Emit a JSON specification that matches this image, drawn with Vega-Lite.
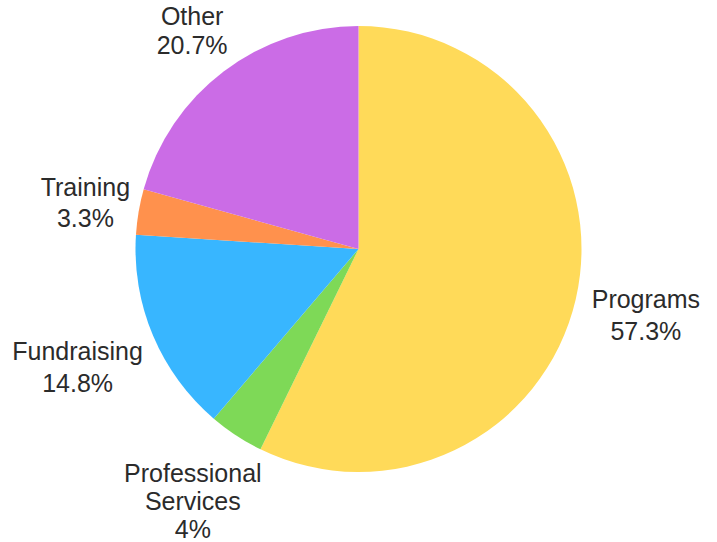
{
  "$schema": "https://vega.github.io/schema/vega-lite/v6.json",
  "width": 717,
  "height": 498,
  "autosize": {"type": "none"},
  "padding": {"top": 0, "left": 0, "right": 0, "bottom": 44},
  "background": "#ffffff",
  "config": {"view": {"stroke": null}},
  "data": {
    "values": [
      {"category": "Programs", "value": 57.3, "rank": 1, "label": "Programs\n57.3%"},
      {"category": "Professional Services", "value": 4, "rank": 2, "label": "Professional\nServices\n4%"},
      {"category": "Fundraising", "value": 14.8, "rank": 3, "label": "Fundraising\n14.8%"},
      {"category": "Training", "value": 3.3, "rank": 4, "label": "Training\n3.3%"},
      {"category": "Other", "value": 20.7, "rank": 5, "label": "Other\n20.7%"}
    ]
  },
  "encoding": {
    "theta": {"field": "value", "type": "quantitative", "stack": true},
    "order": {"field": "rank", "type": "quantitative"}
  },
  "layer": [
    {
      "mark": {"type": "arc", "outerRadius": 223},
      "encoding": {
        "color": {
          "field": "category",
          "type": "nominal",
          "scale": {
            "domain": ["Programs", "Professional Services", "Fundraising", "Training", "Other"],
            "range": ["#FFDA59", "#7ED957", "#38B6FF", "#FF914D", "#CB6CE6"]
          },
          "legend": null
        }
      }
    },
    {
      "mark": {
        "type": "text", "radius": 275, "dy": -13,
        "lineBreak": "\n", "lineHeight": 29, "fontSize": 25,
        "font": "Liberation Sans", "color": "#2b2b2b",
        "align": "center", "baseline": "middle"
      },
      "encoding": {
        "text": {"condition": {"test": "datum.category == 'Other'", "field": "label", "type": "nominal"}, "value": ""}
      }
    },
    {
      "mark": {
        "type": "text", "radius": 277, "dy": -15,
        "lineBreak": "\n", "lineHeight": 31, "fontSize": 25,
        "font": "Liberation Sans", "color": "#2b2b2b",
        "align": "center", "baseline": "middle"
      },
      "encoding": {
        "text": {"condition": {"test": "datum.category == 'Training'", "field": "label", "type": "nominal"}, "value": ""}
      }
    },
    {
      "mark": {
        "type": "text", "radius": 295, "dy": -16,
        "lineBreak": "\n", "lineHeight": 32, "fontSize": 25,
        "font": "Liberation Sans", "color": "#2b2b2b",
        "align": "center", "baseline": "middle"
      },
      "encoding": {
        "text": {"condition": {"test": "datum.category == 'Programs'", "field": "label", "type": "nominal"}, "value": ""}
      }
    },
    {
      "mark": {
        "type": "text", "radius": 305, "dy": -16,
        "lineBreak": "\n", "lineHeight": 32, "fontSize": 25,
        "font": "Liberation Sans", "color": "#2b2b2b",
        "align": "center", "baseline": "middle"
      },
      "encoding": {
        "text": {"condition": {"test": "datum.category == 'Fundraising'", "field": "label", "type": "nominal"}, "value": ""}
      }
    },
    {
      "mark": {
        "type": "text", "radius": 302, "dy": -28,
        "lineBreak": "\n", "lineHeight": 28, "fontSize": 25,
        "font": "Liberation Sans", "color": "#2b2b2b",
        "align": "center", "baseline": "middle"
      },
      "encoding": {
        "text": {"condition": {"test": "datum.category == 'Professional Services'", "field": "label", "type": "nominal"}, "value": ""}
      }
    }
  ]
}
